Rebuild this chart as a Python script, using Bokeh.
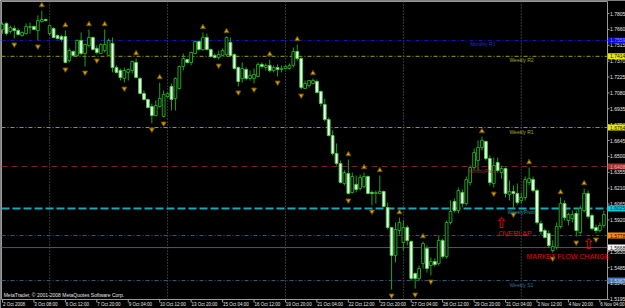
from bokeh.plotting import figure
from bokeh.models import Range1d, ColumnDataSource
from bokeh.core.properties import value
from bokeh.embed import file_html
from bokeh.resources import INLINE

# ---------------- data (4H candles) ----------------
opens = [1.7659, 1.7714, 1.7641, 1.7668, 1.7650, 1.7604, 1.7622, 1.7677, 1.7686, 1.7650,
         1.7732, 1.7750, 1.7622, 1.7668, 1.7604, 1.7595, 1.7595, 1.7376, 1.7458, 1.7422,
         1.7559, 1.7440, 1.7513, 1.7586, 1.7486, 1.7440, 1.7467, 1.7422, 1.7531, 1.7312,
         1.7285, 1.7212, 1.7267, 1.7285, 1.7358, 1.7212, 1.7075, 1.7020, 1.6956, 1.6874,
         1.6956, 1.6865, 1.7047, 1.7139, 1.7029, 1.7120, 1.7321, 1.7385, 1.7358, 1.7440,
         1.7549, 1.7476, 1.7586, 1.7476, 1.7422, 1.7404, 1.7422, 1.7431, 1.7540, 1.7431,
         1.7312, 1.7212, 1.7294, 1.7212, 1.7212, 1.7230, 1.7340, 1.7312, 1.7331, 1.7285,
         1.7312, 1.7294, 1.7303, 1.7303, 1.7331, 1.7458, 1.7394, 1.7120, 1.7148, 1.7166,
         1.7184, 1.7093, 1.6974, 1.6837, 1.6691, 1.6527, 1.6436, 1.6253, 1.6344, 1.6171,
         1.6244, 1.6207, 1.6226, 1.6317, 1.6171, 1.6162, 1.6162, 1.6180, 1.6034, 1.5851,
         1.5596, 1.5824, 1.5714, 1.5851, 1.5723, 1.5431, 1.5386, 1.5522, 1.5659, 1.5504,
         1.5541, 1.5522, 1.5733, 1.5587, 1.5897, 1.6088, 1.6006, 1.6171, 1.6070, 1.6262,
         1.6399, 1.6463, 1.6582, 1.6636, 1.6481, 1.6253, 1.6445, 1.6353, 1.6390, 1.6153,
         1.6180, 1.6162, 1.6098, 1.6125, 1.6262, 1.6289, 1.6189, 1.5888, 1.5824, 1.5797,
         1.5641, 1.5668, 1.5860, 1.6070, 1.5915, 1.5933, 1.5979, 1.5806, 1.6006, 1.6162,
         1.5961, 1.5851, 1.5824, 1.5869]
highs = [1.7723, 1.7723, 1.7695, 1.7695, 1.7668, 1.7641, 1.7714, 1.7723, 1.7695, 1.7787,
         1.7832, 1.7759, 1.7705, 1.7677, 1.7613, 1.7613, 1.7650, 1.7486, 1.7467, 1.7568,
         1.7632, 1.7531, 1.7659, 1.7595, 1.7513, 1.7531, 1.7659, 1.7577, 1.7586, 1.7331,
         1.7303, 1.7312, 1.7303, 1.7376, 1.7394, 1.7221, 1.7102, 1.7029, 1.6983, 1.7011,
         1.7175, 1.7102, 1.7084, 1.7166, 1.7221, 1.7331, 1.7440, 1.7394, 1.7458, 1.7559,
         1.7559, 1.7632, 1.7622, 1.7486, 1.7440, 1.7467, 1.7486, 1.7595, 1.7586, 1.7440,
         1.7321, 1.7358, 1.7312, 1.7285, 1.7303, 1.7358, 1.7358, 1.7349, 1.7385, 1.7331,
         1.7340, 1.7331, 1.7331, 1.7349, 1.7495, 1.7522, 1.7404, 1.7193, 1.7193, 1.7212,
         1.7203, 1.7102, 1.7029, 1.6856, 1.6737, 1.6618, 1.6463, 1.6372, 1.6472, 1.6353,
         1.6326, 1.6335, 1.6353, 1.6326, 1.6189, 1.6189, 1.6326, 1.6189, 1.6079, 1.5860,
         1.5897, 1.5942, 1.5915, 1.5869, 1.5733, 1.5440, 1.5504, 1.5723, 1.5687, 1.5577,
         1.5568, 1.5778, 1.5751, 1.5915, 1.6098, 1.6116, 1.6216, 1.6198, 1.6317, 1.6417,
         1.6573, 1.6646, 1.6682, 1.6646, 1.6509, 1.6490, 1.6490, 1.6417, 1.6399, 1.6280,
         1.6235, 1.6253, 1.6171, 1.6317, 1.6399, 1.6317, 1.6207, 1.5915, 1.5842, 1.5824,
         1.5733, 1.5897, 1.6125, 1.6098, 1.5988, 1.6006, 1.6006, 1.6052, 1.6207, 1.6189,
         1.5979, 1.5878, 1.5897, 1.6006]
lows = [1.7622, 1.7604, 1.7622, 1.7577, 1.7604, 1.7595, 1.7613, 1.7622, 1.7650, 1.7559,
        1.7723, 1.7732, 1.7604, 1.7577, 1.7568, 1.7549, 1.7349, 1.7358, 1.7413, 1.7413,
        1.7422, 1.7321, 1.7495, 1.7467, 1.7431, 1.7440, 1.7449, 1.7413, 1.7267, 1.7258,
        1.7193, 1.7175, 1.7193, 1.7258, 1.7212, 1.7066, 1.7011, 1.6938, 1.6801, 1.6865,
        1.6947, 1.6856, 1.7038, 1.6919, 1.6919, 1.7111, 1.7285, 1.7349, 1.7331, 1.7431,
        1.7467, 1.7467, 1.7467, 1.7404, 1.7394, 1.7385, 1.7413, 1.7413, 1.7413, 1.7294,
        1.7139, 1.7175, 1.7193, 1.7193, 1.7166, 1.7221, 1.7303, 1.7285, 1.7267, 1.7267,
        1.7230, 1.7267, 1.7294, 1.7294, 1.7312, 1.7376, 1.7111, 1.7120, 1.7130, 1.7157,
        1.7075, 1.6956, 1.6819, 1.6682, 1.6509, 1.6417, 1.6253, 1.6235, 1.6153, 1.6162,
        1.6171, 1.6189, 1.6207, 1.6153, 1.6052, 1.6070, 1.6153, 1.6034, 1.5833, 1.5285,
        1.5532, 1.5787, 1.5641, 1.5687, 1.5367, 1.5294, 1.5367, 1.5477, 1.5440, 1.5413,
        1.5495, 1.5504, 1.5568, 1.5568, 1.5878, 1.5988, 1.5979, 1.6034, 1.6052, 1.6235,
        1.6372, 1.6372, 1.6554, 1.6463, 1.6235, 1.6216, 1.6353, 1.6298, 1.6125, 1.6098,
        1.6025, 1.6061, 1.6070, 1.6098, 1.6235, 1.6171, 1.5878, 1.5787, 1.5751, 1.5668,
        1.5623, 1.5650, 1.5842, 1.5915, 1.5869, 1.5897, 1.5769, 1.5787, 1.5988, 1.5933,
        1.5824, 1.5797, 1.5806, 1.5851]
closes = [1.7705, 1.7622, 1.7677, 1.7650, 1.7613, 1.7632, 1.7686, 1.7686, 1.7659, 1.7741,
          1.7750, 1.7741, 1.7695, 1.7586, 1.7577, 1.7568, 1.7358, 1.7467, 1.7422, 1.7559,
          1.7440, 1.7522, 1.7586, 1.7476, 1.7449, 1.7522, 1.7522, 1.7559, 1.7312, 1.7267,
          1.7221, 1.7285, 1.7294, 1.7367, 1.7221, 1.7075, 1.7020, 1.6947, 1.6874, 1.6965,
          1.7029, 1.7066, 1.7075, 1.7020, 1.7212, 1.7321, 1.7394, 1.7358, 1.7449, 1.7549,
          1.7476, 1.7586, 1.7476, 1.7413, 1.7404, 1.7431, 1.7467, 1.7586, 1.7422, 1.7303,
          1.7184, 1.7303, 1.7212, 1.7239, 1.7248, 1.7340, 1.7321, 1.7331, 1.7285, 1.7312,
          1.7294, 1.7303, 1.7321, 1.7331, 1.7458, 1.7394, 1.7130, 1.7166, 1.7193, 1.7193,
          1.7084, 1.6983, 1.6837, 1.6691, 1.6527, 1.6436, 1.6262, 1.6353, 1.6162, 1.6317,
          1.6198, 1.6308, 1.6317, 1.6162, 1.6162, 1.6171, 1.6180, 1.6043, 1.5851, 1.5596,
          1.5833, 1.5897, 1.5851, 1.5733, 1.5386, 1.5386, 1.5477, 1.5705, 1.5477, 1.5541,
          1.5513, 1.5733, 1.5587, 1.5897, 1.5997, 1.6006, 1.6189, 1.6070, 1.6289, 1.6399,
          1.6536, 1.6582, 1.6646, 1.6481, 1.6262, 1.6417, 1.6372, 1.6390, 1.6162, 1.6180,
          1.6162, 1.6079, 1.6125, 1.6289, 1.6298, 1.6189, 1.5897, 1.5815, 1.5760, 1.5687,
          1.5678, 1.5860, 1.6070, 1.5942, 1.5970, 1.5970, 1.5824, 1.6025, 1.6162, 1.5952,
          1.5842, 1.5824, 1.5869, 1.5970]

date_tick_idx = [0, 8, 16, 24, 32, 40, 48, 56, 64, 72, 80, 88, 96, 104, 112, 120, 128, 136, 144, 152]
date_tick_labels = ["2 Oct 2008", "3 Oct 08:00", "6 Oct 12:00", "7 Oct 20:00", "9 Oct 04:00",
                    "10 Oct 12:00", "13 Oct 20:00", "15 Oct 04:00", "16 Oct 12:00", "19 Oct 20:00",
                    "21 Oct 04:00", "22 Oct 12:00", "23 Oct 20:00", "27 Oct 04:00", "28 Oct 12:00",
                    "29 Oct 20:00", "31 Oct 04:00", "3 Nov 12:00", "4 Nov 20:00", "6 Nov 04:00"]
price_ticks = [1.5195, 1.5340, 1.5485, 1.5630, 1.5775, 1.5920, 1.6065, 1.6210, 1.6355, 1.6500,
               1.6645, 1.6790, 1.6935, 1.7080, 1.7225, 1.7370, 1.7515, 1.7660, 1.7805]
week_starts = [12, 42, 72, 102, 132]
fractal_up_idx = [10, 16, 22, 26, 34, 40, 51, 57, 68, 75, 79, 88, 92, 96, 101, 107, 122, 134, 142, 148]
fractal_down_idx = [3, 9, 16, 21, 24, 31, 38, 41, 55, 60, 64, 70, 76, 88, 94, 99, 105, 109,
                    125, 130, 140, 146, 151]

level_values = [1.7559, 1.7414, 1.6764, 1.6408, 1.6025, 1.5778, 1.5668, 1.5367]
level_names = ["Monthly R1", "Weekly R2", "Weekly R1", "MonthlyPivot", "WeeklyPivot", "", "", "Weekly S1"]
level_line_colors = ["#1414c0", "#9c9c00", "#9c9c00", "#762424", "#1fa6b6", "#7e4418", "#4e5966", "#2a5a88"]
level_dashes = ["4 2 1 2", "4 2 1 2", "4 2 1 2", "6 4", "8 3", "4 2 1 2", "solid", "4 2 1 2"]
level_widths = [1, 1, 1, 1, 2, 1, 1, 1]
level_text_colors = ["#2a2ad0", "#a8a828", "#a8a828", "#8a3838", "#2a96a6", "#000000", "#000000", "#3a6a98"]
level_text_x = [119.0, 129.0, 129.0, 118.3, 128.5, 0, 0, 129.0]
box_fill = ["#0a0ae0", "#e8e800", "#e8e800", "#a83030", "#00ccd8", "#ff8a00", "#f4f4f4", "#4a7ab2"]
box_text = ["#8c8cff", "#202000", "#202000", "#e0b0b0", "#003040", "#201000", "#101010", "#c8d8ea"]

note_texts = ["OVERLAP", "MARKET FLOW CHANGE"]
note_x = [126.2, 133.3]
note_y = [1.5796, 1.5587]
arrow_x = [127.0, 149.2]
arrow_y = [1.5895, 1.5703]

FONT = "Liberation Sans"

# ---------------- layout: the whole canvas is the terminal window ----------------
X0, X1 = -0.509, 158.52          # bar-index range across the 625 px window
Y0, Y1 = 1.51117, 1.79237        # price range across the 308 px window
XL, XR = -0.254, 153.94          # chart border left / price-scale line
YT, YB = 1.79146, 1.51938        # chart border top / bottom
X_TICK_END = 154.45
X_PRICE_LBL = 154.6
X_BOX = 156.23
Y_DATE_LBL = 1.51482
Y_DATE_TICK = 1.5167

p = figure(width=625, height=308, output_backend="svg", toolbar_location=None,
           x_range=Range1d(X0, X1), y_range=Range1d(Y0, Y1),
           x_axis_location=None, y_axis_location=None,
           background_fill_color="#000000", border_fill_color="#000000",
           min_border=0)
p.grid.visible = False
p.outline_line_color = None

# chart border
p.quad(left=[XL], right=[XR], top=[YT], bottom=[YB], fill_color=None, line_color="#9a9a9a", line_width=1)

# week separators
n_w = len(week_starts)
p.segment(x0=week_starts, y0=[YT] * n_w, x1=week_starts, y1=[YB] * n_w,
          line_color="#707070", line_dash="1 2", line_width=1)

# level lines
for v, c, d, lw in zip(level_values, level_line_colors, level_dashes, level_widths):
    p.segment(x0=[XL], y0=[v], x1=[XR], y1=[v], line_color=c, line_dash=d, line_width=lw)

# candles
idx = list(range(len(opens)))
bull = [i for i in idx if closes[i] >= opens[i]]
bear = [i for i in idx if closes[i] < opens[i]]
p.segment(x0=idx, y0=highs, x1=idx, y1=lows, line_color="#1fa01f", line_width=1)
p.vbar(x=bull, width=0.7, top=[closes[i] for i in bull], bottom=[opens[i] for i in bull],
       fill_color="#000000", line_color="#1fa01f", line_width=1)
p.vbar(x=bear, width=0.7, top=[opens[i] for i in bear], bottom=[closes[i] for i in bear],
       fill_color="#f2fff2", line_color="#4ccc4c", line_width=1)

# fractals
p.scatter(x=fractal_up_idx, y=[highs[i] + 0.0048 for i in fractal_up_idx], marker="triangle",
          size=5, fill_color="#d8a800", line_color="#6a4e00", line_width=1)
p.scatter(x=fractal_down_idx, y=[lows[i] - 0.0055 for i in fractal_down_idx], marker="inverted_triangle",
          size=5, fill_color="#d8a800", line_color="#6a4e00", line_width=1)

# level names on the lines
names_src = ColumnDataSource(dict(
    x=[x for x, n in zip(level_text_x, level_names) if n],
    y=[v for v, n in zip(level_values, level_names) if n],
    t=[n for n in level_names if n],
    c=[c for c, n in zip(level_text_colors, level_names) if n]))
p.text(x="x", y="y", text="t", text_color="c", source=names_src, text_font=value(FONT),
       text_font_size="5px", text_baseline="top", text_align="left", y_offset=1)

# hand-drawn notes
p.text(x=arrow_x, y=arrow_y, text=["\u21e7"] * len(arrow_x), text_color="#e01010",
       text_font=value("DejaVu Sans"), text_font_size="15px", text_align="center", text_baseline="middle")
p.text(x=note_x, y=note_y, text=note_texts, text_color="#e01010",
       text_font=value(FONT), text_font_size="7px", text_align="left", text_baseline="middle")

p.text(x=[0.3], y=[1.5231], text=["MetaTrader, \u00a9 2001-2008 MetaQuotes Software Corp."],
       text_color="#e6e6e6", text_font=value(FONT), text_font_size="5px",
       text_align="left", text_baseline="middle")

# price scale
n_p = len(price_ticks)
p.segment(x0=[XR] * n_p, y0=price_ticks, x1=[X_TICK_END] * n_p, y1=price_ticks, line_color="#a0a0a0")
p.text(x=[X_PRICE_LBL] * n_p, y=price_ticks, text=["%.4f" % t for t in price_ticks],
       text_color="#e6e6e6", text_font=value(FONT), text_font_size="5px",
       text_align="left", text_baseline="middle")

# level boxes on the price scale
n_l = len(level_values)
p.rect(x=[X_BOX] * n_l, y=level_values, width=17, height=6, width_units="screen", height_units="screen",
       fill_color=box_fill, line_color=None)
p.text(x=[X_PRICE_LBL] * n_l, y=level_values, text=["%.4f" % v for v in level_values],
       text_color=box_text, text_font=value(FONT), text_font_size="5px",
       text_align="left", text_baseline="middle")

# time scale
n_d = len(date_tick_idx)
p.segment(x0=date_tick_idx, y0=[YB] * n_d, x1=date_tick_idx, y1=[Y_DATE_TICK] * n_d, line_color="#a0a0a0")
p.text(x=[i + 0.1 for i in date_tick_idx], y=[Y_DATE_LBL] * n_d, text=date_tick_labels,
       text_color="#e6e6e6", text_font=value(FONT), text_font_size="4.5px",
       text_align="left", text_baseline="middle")

open("out.html", "w").write(file_html(p, INLINE))
